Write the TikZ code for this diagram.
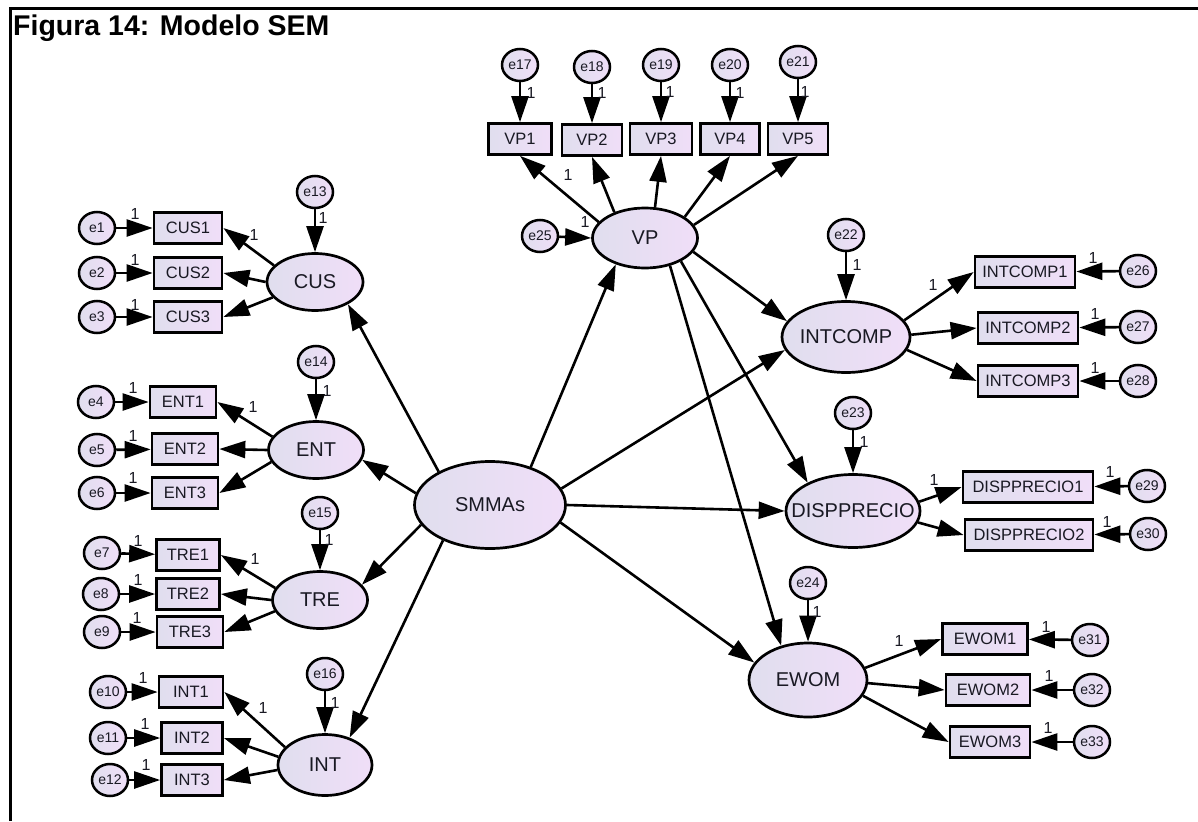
\documentclass[tikz,border=0pt]{standalone}
\usepackage{fontspec}
\setmainfont{Liberation Sans}
\usetikzlibrary{arrows.meta,shapes.geometric}
\definecolor{fillL}{RGB}{224,222,238}
\definecolor{fillR}{RGB}{240,222,248}
\definecolor{ink}{RGB}{25,25,35}
\newcommand{\zb}[1]{\makebox[0pt]{#1}}
\tikzset{
  lat/.style={ellipse, draw=black, line width=2.7pt, left color=fillL, right color=fillR,
    inner sep=0pt, text=ink, font=\fontsize{20}{22}\selectfont},
  obs/.style={rectangle, draw=black, line width=2.7pt, left color=fillL, right color=fillR,
    inner sep=0pt, minimum height=31pt, text=ink, font=\fontsize{16.5}{18}\selectfont},
  err/.style={ellipse, draw=black, line width=2.5pt, left color=fillL, right color=fillR,
    inner sep=0pt, minimum width=36pt, minimum height=32pt, text=ink, font=\fontsize{14}{16}\selectfont},
  arr/.style={line width=2.6pt, -{Triangle[length=26pt,width=17pt]}},
  one/.style={inner sep=0pt, text=ink, font=\fontsize{16}{18}\selectfont}
}
\begin{document}
\begin{tikzpicture}[x=1pt,y=-1pt]
\useasboundingbox (0,0) rectangle (1198,821);
\fill[white] (0,0) rectangle (1198,821);
% frame
\draw[line width=3pt] (10,821) -- (10,8.5) -- (1198,8.5);
\node[anchor=base west, inner sep=0pt, font=\fontsize{28.5}{31}\selectfont\bfseries] (title) at (13,36) {Figura 14: Modelo SEM};

% latent variables
\node[lat, minimum width=96pt, minimum height=57pt] (CUS) at (315,282) {\zb{CUS}};
\node[lat, minimum width=95pt, minimum height=57pt] (ENT) at (316,450) {\zb{ENT}};
\node[lat, minimum width=95pt, minimum height=57pt] (TRE) at (320,600) {\zb{TRE}};
\node[lat, minimum width=94pt, minimum height=61pt] (INT) at (325,765) {\zb{INT}};
\node[lat, minimum width=151pt, minimum height=87pt] (SMMAs) at (490,505) {\zb{SMMAs}};
\node[lat, minimum width=105pt, minimum height=60pt] (VP) at (645,238) {\zb{VP}};
\node[lat, minimum width=128pt, minimum height=71pt] (INTCOMP) at (846,337) {\zb{INTCOMP}};
\node[lat, minimum width=134pt, minimum height=73pt] (DISP) at (853,511) {\zb{DISPPRECIO}};
\node[lat, minimum width=118pt, minimum height=74pt] (EWOM) at (808,680) {\zb{EWOM}};

% observed variables
\foreach \n/\x/\y/\w in {CUS1/188/228/68, CUS2/188/273/68, CUS3/188/317/68,
  ENT1/183/402/66, ENT2/185/449/66, ENT3/185/493/66,
  TRE1/188/555/63, TRE2/188/594/63, TRE3/190/632/66,
  INT1/191/692/64, INT2/192/738/61, INT3/192/780/61,
  VP1/520/139/63, VP2/592/140/60, VP3/661/139/62, VP4/730/139/59, VP5/798/139/60,
  INTCOMP1/1025/272/100, INTCOMP2/1028/328/100, INTCOMP3/1028/381/100,
  DISPPRECIO1/1028/487/130, DISPPRECIO2/1029/535/128,
  EWOM1/985/639/85, EWOM2/988/690/84, EWOM3/990/742/80}
  \node[obs, minimum width=\w pt] (\n) at (\x,\y) {\n};

% error terms
\foreach \n/\x/\y in {e1/97/228, e2/97/273, e3/97/317,
  e4/96/402, e5/97/450, e6/97/493,
  e7/102/553, e8/101/594, e9/102/632,
  e10/108/692, e11/108/738, e12/110/780,
  e13/315/192, e14/316/362, e15/320/513, e16/325/674,
  e17/520/65, e18/592/67, e19/661/65, e20/730/65, e21/798/62,
  e22/846/235, e23/853/413, e24/808/583, e25/540/236,
  e26/1138/271, e27/1138/327, e28/1138/381,
  e29/1147/486, e30/1148/534,
  e31/1090/640, e32/1092/690, e33/1092/742}
  \node[err] (\n) at (\x,\y) {\n};

% error -> indicator / latent
\foreach \a/\b in {e1/CUS1, e2/CUS2, e3/CUS3, e4/ENT1, e5/ENT2, e6/ENT3,
  e7/TRE1, e8/TRE2, e9/TRE3, e10/INT1, e11/INT2, e12/INT3,
  e26/INTCOMP1, e27/INTCOMP2, e28/INTCOMP3, e29/DISPPRECIO1, e30/DISPPRECIO2,
  e31/EWOM1, e32/EWOM2, e33/EWOM3}
  \draw[arr] (\a) -- (\b);
\foreach \a/\b in {e13/CUS, e14/ENT, e15/TRE, e16/INT, e22/INTCOMP, e23/DISP, e24/EWOM,
  e17/VP1, e18/VP2, e19/VP3, e20/VP4, e21/VP5}
  \draw[arr] (\a) -- (\b.north);
\draw[arr] (e25) -- (VP.west);

% latent -> indicators (left)
\draw[arr] (CUS.158) -- (CUS1.east);
\draw[arr] (CUS.180) -- (CUS2.east);
\draw[arr] (CUS.200) -- (CUS3.east);
\draw[arr] (ENT.163) -- (ENT1.east);
\draw[arr] (ENT.180) -- (ENT2.east);
\draw[arr] (ENT.195) -- (ENT3.east);
\draw[arr] (TRE.165) -- (TRE1.east);
\draw[arr] (TRE.180) -- (TRE2.east);
\draw[arr] (TRE.194) -- (TRE3.east);
\draw[arr] (INT.156) -- (INT1.east);
\draw[arr] (INT.170) -- (INT2.east);
\draw[arr] (INT.186) -- (INT3.east);
% VP indicators
\draw[arr] (VP.161) -- (VP1.south);
\draw[arr] (VP.140) -- (VP2.south);
\draw[arr] (VP.72) -- (VP3.south);
\draw[arr] (VP.28) -- (VP4.south);
\draw[arr] (VP.15) -- (VP5.south);
% right indicators
\draw[arr] (INTCOMP.16) -- (INTCOMP1.west);
\draw[arr] (INTCOMP.2) -- (INTCOMP2.west);
\draw[arr] (INTCOMP.-12) -- (INTCOMP3.west);
\draw[arr] (DISP.8) -- (DISPPRECIO1.west);
\draw[arr] (DISP.-10) -- (DISPPRECIO2.west);
\draw[arr] (EWOM.12) -- (EWOM1.west);
\draw[arr] (EWOM.-3) -- (EWOM2.west);
\draw[arr] (EWOM.-16) -- (EWOM3.west);

% structural paths
\draw[arr] (SMMAs.147) -- (CUS.-34);
\draw[arr] (SMMAs.171) -- (ENT.-12);
\draw[arr] (SMMAs.196) -- (TRE.20);
\draw[arr] (SMMAs.217) -- (INT.48);
\draw[arr] (SMMAs.43) -- (VP.222);
\draw[arr] (SMMAs.13) -- (INTCOMP.192);
\draw[arr] (SMMAs.east) -- (DISP.west);
\draw[arr] (SMMAs.-14) -- (EWOM.162);
\draw[arr] (VP.-16) -- (INTCOMP.165);
\draw[arr] (VP.-33) -- (DISP.148);
\draw[arr] (VP.-48) -- (EWOM.128);

% regression weight labels
\foreach \i/\x/\y in {1/135/214, 2/135/260, 3/135/305, 4/254/235, 5/323/218,
  6/133/388, 7/133/436, 8/133/478, 9/253/407, 10/327/391,
  11/138/541, 12/138/580, 13/137/618, 14/255/559, 15/329/540,
  16/143/678, 17/145/724, 18/146/765, 19/263/708, 20/335/703,
  21/531/93, 22/602/93, 23/670/92, 24/740/93, 25/805/92, 26/568/175, 27/585/222,
  28/857/265, 29/933/285, 30/1093/258, 31/1095/314, 32/1095/368,
  33/864/442, 34/934/480, 35/1110/472, 36/1107/522,
  37/817/612, 38/899/641, 39/1046/627, 40/1049/676, 41/1048/728}
  \node[one] (l\i) at (\x,\y) {1};
\end{tikzpicture}
\end{document}
